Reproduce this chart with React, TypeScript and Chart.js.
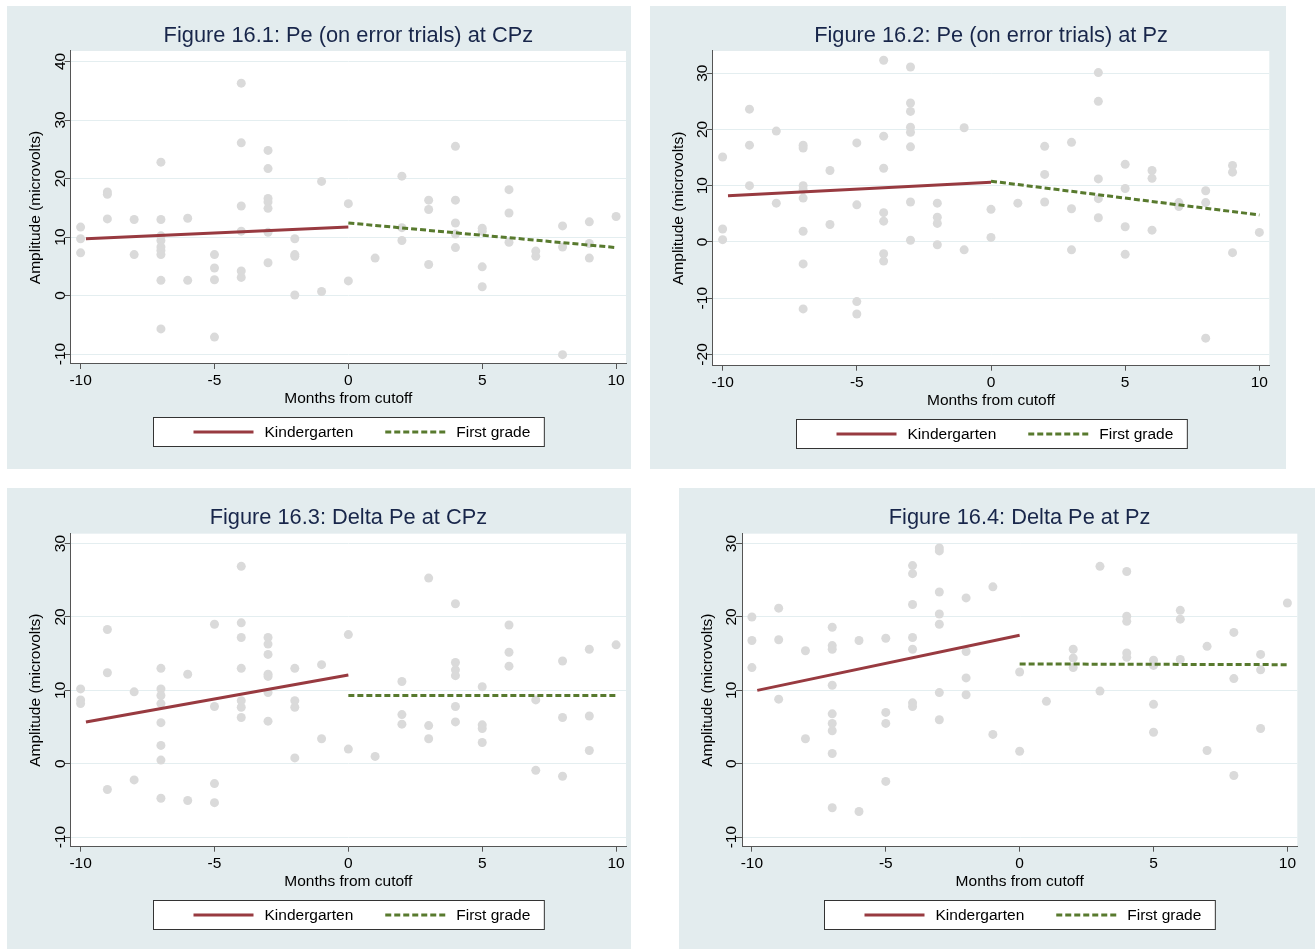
import React, { useEffect, useRef } from 'react';
import { Chart, registerables } from 'chart.js';

Chart.register(...registerables);

// ---------- data ----------
const months = [-10, -9, -8, -7, -6, -5, -4, -3, -2, -1, 0, 1, 2, 3, 4, 5, 6, 7, 8, 9, 10];
const kgLineX = [-9.8, 0];
const fgLineX = [0, 10];
const xTickLabels = ['-10', '-5', '0', '5', '10'];
const seriesNames = ['Kindergarten', 'First grade'];
const xAxisTitle = 'Months from cutoff';
const yAxisTitle = 'Amplitude (microvolts)';

const fig1Title = 'Figure 16.1: Pe (on error trials) at CPz';
const fig1Values: number[][] = [
  [11.7, 9.7, 7.3],
  [17.7, 17.3, 13.1],
  [13.0, 7.0],
  [22.8, 13.0, 10.2, 9.4, 8.3, 7.7, 7.0, 2.6, -5.7],
  [13.2, 2.6],
  [7.0, 4.7, 2.7, -7.1],
  [36.3, 26.1, 15.3, 11.0, 4.2, 3.1],
  [24.8, 21.7, 16.6, 16.0, 14.9, 10.8, 5.6],
  [9.7, 7.0, 6.7, 0.1],
  [19.5, 0.7],
  [15.7, 2.5],
  [6.4],
  [20.4, 11.6, 9.4],
  [16.3, 14.7, 5.3],
  [25.5, 16.3, 12.4, 10.5, 8.2],
  [11.5, 11.0, 4.9, 1.5],
  [18.1, 14.1, 9.1],
  [7.6, 6.7],
  [11.9, 8.3, -10.1],
  [12.6, 8.9, 6.4],
  [13.5],
];
const fig1Kg = [9.7, 11.7];
const fig1Fg = [12.4, 8.2];

const fig2Title = 'Figure 16.2: Pe (on error trials) at Pz';
const fig2Values: number[][] = [
  [15.1, 2.3, 0.4],
  [23.6, 17.2, 10.0],
  [19.7, 6.9],
  [17.2, 16.7, 10.0, 9.3, 7.8, 1.9, -3.9, -11.9],
  [12.7, 3.1],
  [17.6, 6.6, -10.6, -12.8],
  [32.3, 18.8, 13.1, 5.2, 3.7, -2.1, -3.4],
  [31.1, 24.7, 23.2, 20.4, 19.5, 16.9, 7.1, 0.3],
  [6.9, 4.4, 3.3, -0.5],
  [20.3, -1.4],
  [5.8, 0.8],
  [6.9],
  [17.0, 12.0, 7.1],
  [17.7, 5.9, -1.4],
  [30.1, 25.0, 11.2, 7.7, 4.3],
  [13.8, 9.5, 2.7, -2.2],
  [12.7, 11.3, 2.1],
  [7.0, 6.3],
  [9.1, 7.0, -17.1],
  [13.6, 12.4, -1.9],
  [1.7],
];
const fig2Kg = [8.2, 10.6];
const fig2Fg = [10.8, 4.8];

const fig3Title = 'Figure 16.3: Delta Pe at CPz';
const fig3Values: number[][] = [
  [10.2, 8.7, 8.2],
  [18.3, 12.4, -3.5],
  [9.8, -2.2],
  [13.0, 10.2, 9.3, 8.2, 5.6, 2.5, 0.5, -4.7],
  [12.2, -5.0],
  [19.0, 7.8, -2.7, -5.3],
  [26.9, 19.2, 17.2, 13.0, 8.6, 7.7, 6.3],
  [17.2, 16.3, 14.9, 12.2, 11.9, 9.7, 5.8],
  [13.0, 8.6, 7.7, 0.8],
  [13.5, 3.4],
  [17.6, 2.0],
  [1.0],
  [11.2, 6.7, 5.4],
  [25.3, 5.2, 3.4],
  [21.8, 13.8, 12.8, 12.0, 7.8, 5.7],
  [10.5, 5.3, 4.8, 2.9],
  [18.9, 15.2, 13.3],
  [8.7, -0.9],
  [14.0, 6.3, -1.7],
  [15.6, 6.5, 1.8],
  [16.2],
];
const fig3Kg = [5.7, 12.1];
const fig3Fg = [9.3, 9.3];

const fig4Title = 'Figure 16.4: Delta Pe at Pz';
const fig4Values: number[][] = [
  [20.0, 16.8, 13.1],
  [21.2, 16.9, 8.8],
  [15.4, 3.4],
  [18.6, 16.1, 15.6, 10.7, 6.8, 5.5, 4.5, 1.4, -6.0],
  [16.8, -6.5],
  [17.1, 7.0, 5.5, -2.4],
  [27.0, 25.9, 21.7, 17.2, 15.6, 8.3, 7.8],
  [29.4, 29.0, 23.4, 20.4, 19.0, 9.7, 6.0],
  [22.6, 15.3, 11.7, 9.4],
  [24.1, 4.0],
  [12.5, 1.7],
  [8.5],
  [15.6, 14.4, 13.1],
  [26.9, 9.9],
  [26.2, 20.1, 19.4, 15.1, 14.5],
  [14.1, 13.4, 8.1, 4.3],
  [20.9, 19.7, 14.2],
  [16.0, 1.8],
  [17.9, 11.6, -1.6],
  [14.9, 12.8, 4.8],
  [21.9],
];
const fig4Kg = [10.0, 17.5];
const fig4Fg = [13.6, 13.5];

// ---------- styles ----------
const FAMILY = '"Liberation Sans", Arial, Helvetica, sans-serif';
const BG = '#e3ecee';
const GRID = '#e4eef0';
const AXIS = '#555555';
const RED = '#983a40';
const GREEN = '#587a2e';
const DOT = '#dadada';
const TITLE_COLOR = '#18264a';
const TXT = 15.5;

type PanelCfg = {
  title: string;
  values: number[][];
  kg: number[];
  fg: number[];
  yMin: number;
  yMax: number;
  left: number;
  top: number;
  w: number;
  h: number;
  yW: number;
  padR: number;
  padB: number;
  titlePadB: number;
};

const panels: PanelCfg[] = [
  { title: fig1Title, values: fig1Values, kg: fig1Kg, fg: fig1Fg, yMin: -11.7, yMax: 41.8,
    left: 7, top: 6, w: 624, h: 463, yW: 63.7, padR: 5, padB: 55, titlePadB: 2.0 },
  { title: fig2Title, values: fig2Values, kg: fig2Kg, fg: fig2Fg, yMin: -22.0, yMax: 33.95,
    left: 650, top: 6, w: 636, h: 463, yW: 62.7, padR: 16.7, padB: 53.3, titlePadB: 2.0 },
  { title: fig3Title, values: fig3Values, kg: fig3Kg, fg: fig3Fg, yMin: -11.3, yMax: 31.35,
    left: 7, top: 488, w: 624, h: 461, yW: 63.7, padR: 5, padB: 52.3, titlePadB: 2.7 },
  { title: fig4Title, values: fig4Values, kg: fig4Kg, fg: fig4Fg, yMin: -11.3, yMax: 31.35,
    left: 679, top: 488, w: 636, h: 461, yW: 63, padR: 17.7, padB: 52.3, titlePadB: 2.7 },
];

const bgPlugin = {
  id: 'panelBg',
  beforeDraw(chart: any) {
    const { ctx, chartArea: ca, width, height } = chart;
    ctx.save();
    ctx.fillStyle = BG;
    ctx.fillRect(0, 0, width, height);
    ctx.fillStyle = '#ffffff';
    ctx.fillRect(ca.left, ca.top, ca.right - ca.left, ca.bottom - ca.top);
    ctx.restore();
  },
};

const legendBoxPlugin = {
  id: 'legendBox',
  afterDraw(chart: any) {
    const { ctx, chartArea: ca } = chart;
    const ds = chart.data.datasets.slice(0, 2);
    const padL = 40, lineW = 60, gap = 11, itemGap = 32, padR = 14, boxH = 29;
    ctx.save();
    ctx.font = `${TXT}px ${FAMILY}`;
    const widths = ds.map((d: any) => ctx.measureText(d.label).width);
    const total = padL + ds.length * (lineW + gap) + widths.reduce((a: number, b: number) => a + b, 0)
      + itemGap * (ds.length - 1) + padR;
    const cx = (ca.left + ca.right) / 2;
    const x0 = Math.round(cx - total / 2) + 0.5;
    const y0 = Math.round(ca.bottom + 53) + 0.5;
    ctx.fillStyle = '#ffffff';
    ctx.fillRect(x0, y0, total, boxH);
    ctx.strokeStyle = '#333333';
    ctx.lineWidth = 1;
    ctx.setLineDash([]);
    ctx.strokeRect(x0, y0, total, boxH);
    const yc = y0 + boxH / 2;
    let x = x0 + padL;
    ds.forEach((d: any, i: number) => {
      ctx.beginPath();
      ctx.setLineDash(d.borderDash || []);
      ctx.strokeStyle = d.borderColor;
      ctx.lineWidth = d.borderWidth;
      ctx.moveTo(x, yc);
      ctx.lineTo(x + lineW, yc);
      ctx.stroke();
      ctx.setLineDash([]);
      x += lineW + gap;
      ctx.fillStyle = '#000000';
      ctx.textAlign = 'left';
      ctx.textBaseline = 'middle';
      ctx.fillText(d.label, x, yc + 0.5);
      x += widths[i] + itemGap;
    });
    ctx.restore();
  },
};

function Panel({ cfg }: { cfg: PanelCfg }) {
  const ref = useRef<HTMLCanvasElement>(null);
  useEffect(() => {
    if (!ref.current) return;
    const points: { x: number; y: number }[] = [];
    cfg.values.forEach((vals, i) => vals.forEach((v) => points.push({ x: months[i], y: v })));
    const font = { family: FAMILY, size: TXT };
    const chart = new Chart(ref.current, {
      type: 'scatter',
      data: {
        datasets: [
          {
            label: seriesNames[0],
            data: kgLineX.map((x, i) => ({ x, y: cfg.kg[i] })),
            showLine: true,
            borderColor: RED,
            backgroundColor: RED,
            borderWidth: 3,
            pointRadius: 0,
            order: 0,
          } as any,
          {
            label: seriesNames[1],
            data: fgLineX.map((x, i) => ({ x, y: cfg.fg[i] })),
            showLine: true,
            borderColor: GREEN,
            backgroundColor: GREEN,
            borderWidth: 3,
            borderDash: [6, 3],
            pointRadius: 0,
            order: 1,
          } as any,
          {
            label: 'observations',
            data: points,
            backgroundColor: DOT,
            borderWidth: 0,
            pointRadius: 4.5,
            order: 2,
          } as any,
        ],
      },
      options: {
        responsive: false,
        animation: false,
        devicePixelRatio: 1,
        layout: { padding: { left: 0, right: cfg.padR, top: 0, bottom: cfg.padB } },
        plugins: {
          legend: { display: false },
          tooltip: { enabled: false },
          title: {
            display: true,
            text: cfg.title,
            color: TITLE_COLOR,
            fullSize: false,
            font: { family: FAMILY, size: 21.8, weight: 'normal' },
            padding: { top: 16.8, bottom: cfg.titlePadB },
          },
        },
        scales: {
          x: {
            type: 'linear',
            min: -10.37,
            max: 10.37,
            afterFit: (s: any) => { s.height = 50; },
            ticks: {
              stepSize: 5,
              includeBounds: false,
              maxRotation: 0,
              padding: 2.7,
              color: '#000',
              font,
              callback: (v: any) => {
                const idx = xTickLabels.indexOf(String(v));
                return idx >= 0 ? xTickLabels[idx] : String(v);
              },
            },
            grid: { drawOnChartArea: false, tickColor: AXIS, tickLength: 5 },
            border: { display: true, color: AXIS, width: 1 },
            title: { display: true, text: xAxisTitle, color: '#000', font, padding: { top: 0, bottom: 5.7 } },
          },
          y: {
            type: 'linear',
            min: cfg.yMin,
            max: cfg.yMax,
            afterFit: (s: any) => { s.width = cfg.yW; },
            ticks: {
              stepSize: 10,
              includeBounds: false,
              minRotation: 90,
              maxRotation: 90,
              crossAlign: 'center',
              padding: -7,
              color: '#000',
              font,
            },
            grid: { color: GRID, lineWidth: 1, tickColor: AXIS, tickLength: 6 },
            border: { display: true, color: AXIS, width: 1 },
            title: { display: true, text: yAxisTitle, color: '#000', font, padding: { top: 19.5, bottom: 0 } },
          },
        },
      } as any,
      plugins: [bgPlugin, legendBoxPlugin],
    });
    return () => chart.destroy();
  }, [cfg]);
  return (
    <canvas
      ref={ref}
      width={cfg.w}
      height={cfg.h}
      style={{ position: 'absolute', left: cfg.left, top: cfg.top, width: cfg.w, height: cfg.h }}
    />
  );
}

export default function App() {
  return (
    <div style={{ position: 'fixed', left: 0, top: 0, width: 1315, height: 949, background: '#ffffff', overflow: 'hidden' }}>
      {panels.map((p) => (
        <Panel key={p.title} cfg={p} />
      ))}
    </div>
  );
}
